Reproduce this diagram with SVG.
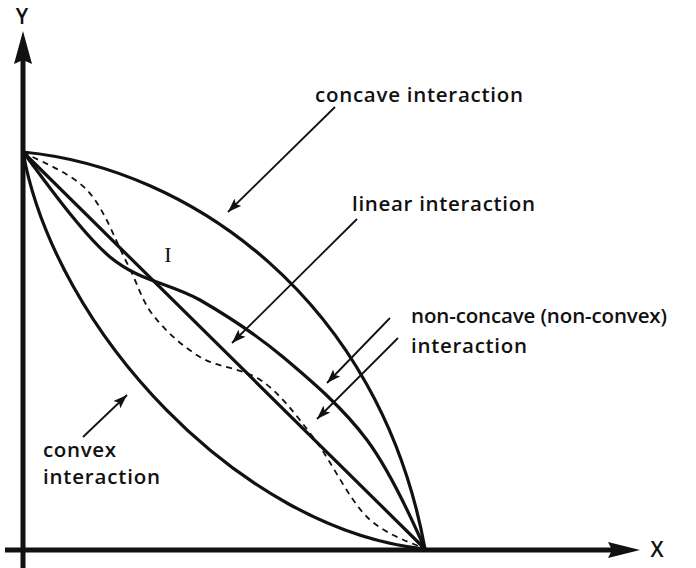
<svg xmlns="http://www.w3.org/2000/svg" width="696" height="568" viewBox="0 0 696 568">
<style>
.axis{stroke:#111;stroke-width:5;fill:none}
.curve{stroke:#111;stroke-width:3.2;fill:none;stroke-linecap:round}
.dash{stroke:#111;stroke-width:1.8;fill:none;stroke-dasharray:6 5}
.lead{stroke:#111;stroke-width:1.8;fill:none}
.lbl{font-family:"Open Sans","Noto Sans",sans-serif;font-size:20.5px;font-weight:600;fill:#111}
.ax{font-family:"Open Sans","Noto Sans",sans-serif;font-size:21px;font-weight:600;fill:#111}
.roman{font-family:"Liberation Serif",serif;font-size:22px;fill:#111}
</style>
<defs>
<marker id="ah" viewBox="0 0 14 10" refX="14" refY="5" markerWidth="14" markerHeight="10" markerUnits="userSpaceOnUse" orient="auto">
<path d="M0,0 L14,5 L0,10 L3,5 z" fill="#111"/>
</marker>
</defs>
<rect width="696" height="568" fill="#fff"/>
<g id="axes">
<line class="axis" x1="23" y1="60" x2="23" y2="568"/>
<polygon points="23,31 32,64 23,60 14,64" fill="#111"/>
<line class="axis" x1="5" y1="550" x2="612" y2="550"/>
<polygon points="640,550 608,558 612,550 608,542" fill="#111"/>
<text class="ax" x="22" y="24" text-anchor="middle">Y</text>
<text class="ax" x="657" y="557" text-anchor="middle">X</text>
</g>
<g id="curves">
<path id="concave" class="curve" d="M23,152 C190,168 380,300 425,549"/>
<path id="linear" class="curve" d="M23,152 L425,549"/>
<path id="nonconcave" class="curve" d="M23,152 C36.7,169.5 80.3,232.3 110,257 C139.7,281.7 171.2,283.3 200,300 C228.8,316.7 255.2,333.7 283,357 C310.8,380.3 343.3,408 367,440 C390.7,472 418,533 425,549"/>
<path id="convex" class="curve" d="M23,152 C55,330 240,530 425,549"/>
<path id="dashed" class="dash" d="M23,152 C32.8,158.3 69.5,171.5 87,190 C104.5,208.5 116,242.2 127,263 C138,283.8 140.8,299.3 153,315 C165.2,330.7 181.8,346 200,357 C218.2,368 243.2,367.7 262,381 C280.8,394.3 295.5,414.3 313,437 C330.5,459.7 348.3,498.3 367,517 C385.7,535.7 415.3,543.7 425,549"/>
</g>
<g id="label-I"><text class="roman" x="168" y="262" text-anchor="middle">I</text></g>
<g id="label-concave"><text class="lbl" x="315" y="102" textLength="208" lengthAdjust="spacing">concave interaction</text></g>
<g id="label-linear"><text class="lbl" x="352" y="211" textLength="183" lengthAdjust="spacing">linear interaction</text></g>
<g id="label-nonconcave">
<text class="lbl" x="411" y="323" textLength="256" lengthAdjust="spacing">non-concave (non-convex)</text>
<text class="lbl" x="411" y="353" textLength="116" lengthAdjust="spacing">interaction</text>
</g>
<g id="label-convex">
<text class="lbl" x="43" y="457" textLength="73" lengthAdjust="spacing">convex</text>
<text class="lbl" x="43" y="484" textLength="117" lengthAdjust="spacing">interaction</text>
</g>
<g id="connectors">
<line class="lead" x1="335" y1="107" x2="228" y2="212" marker-end="url(#ah)"/>
<line class="lead" x1="357" y1="219" x2="232" y2="343" marker-end="url(#ah)"/>
<line class="lead" x1="390" y1="318" x2="327" y2="383" marker-end="url(#ah)"/>
<line class="lead" x1="398" y1="338" x2="317" y2="419" marker-end="url(#ah)"/>
<line class="lead" x1="83" y1="437" x2="127" y2="395" marker-end="url(#ah)"/>
</g>
</svg>
